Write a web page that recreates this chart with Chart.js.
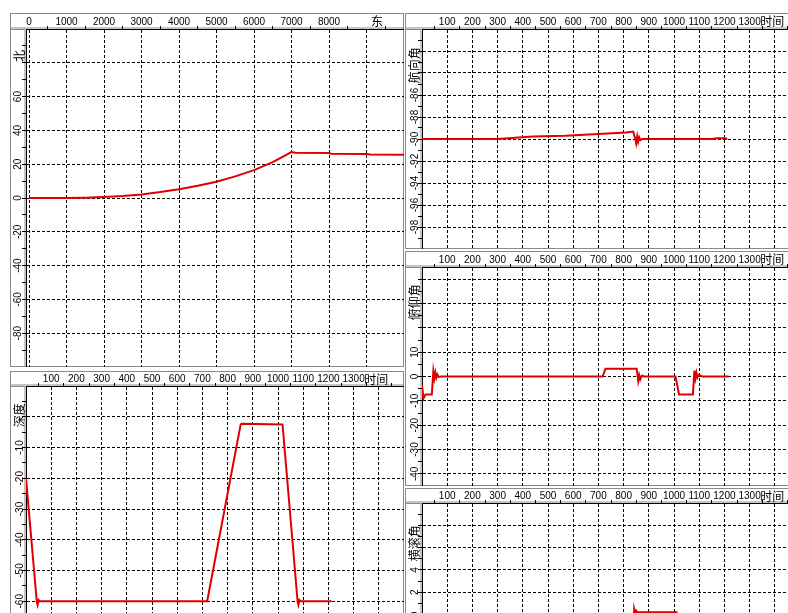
<!DOCTYPE html>
<html>
<head>
<meta charset="utf-8">
<script src="https://cdn.jsdelivr.net/npm/chart.js@4.4.0/dist/chart.umd.min.js"></script>
<style>
  html, body { margin: 0; padding: 0; background: #fff; width: 788px; height: 613px; overflow: hidden; }
  canvas { position: absolute; }
</style>
</head>
<body>
<canvas id="track" width="394" height="354" style="left:10px;top:13px"></canvas>
<canvas id="heading" width="395" height="236" style="left:405px;top:13px"></canvas>
<canvas id="pitch" width="395" height="235" style="left:405px;top:251px"></canvas>
<canvas id="depth" width="394" height="261" style="left:10px;top:371px"></canvas>
<canvas id="roll" width="395" height="238" style="left:405px;top:488px"></canvas>
<script>
// 轨迹：东 / 北
var trackEast  = [0, 1000, 1500, 2000, 2500, 3000, 3500, 4000, 4500, 5000, 5500, 6000, 6500, 7000, 7100, 8000, 8050, 9000, 9100, 10000];
var trackNorth = [0, 0, 0.2, 0.6, 1.2, 2.1, 3.5, 5.2, 7.2, 9.6, 12.8, 16.5, 21.2, 27.2, 26.8, 26.7, 26.2, 26.1, 25.7, 25.6];

// 航向角 vs 时间
var headTime = [0, 300, 440, 570, 700, 810, 838, 846, 850, 854, 858, 862, 867, 874, 1000, 1150, 1170, 1200, 1212];
var headVal  = [-90.0, -90.0, -89.78, -89.7, -89.55, -89.4, -89.33, -89.95, -90.4, -89.75, -90.25, -89.85, -90.1, -90.0, -90.0, -90.0, -89.93, -89.93, -90.0];

// 俯仰角 vs 时间
var pitchTime = [0, 6, 14, 39, 45, 49, 53, 57, 61, 66, 76, 717, 728, 852, 858, 862, 866, 872, 883, 1006, 1020, 1075, 1081, 1085, 1089, 1093, 1098, 1113, 1217];
var pitchVal  = [-3.5, -9, -7.4, -7.4, 2.2, -0.8, 1.6, -0.5, 0.8, -0.2, 0, 0, 3.2, 3.2, -1.8, 0.5, -1.2, 0.3, 0, 0, -7.4, -7.4, 2.4, -0.8, 1.5, -0.4, 0.6, 0, 0];

// 深度 vs 时间
var depthTime = [0, 43, 46, 50, 55, 719, 852, 856, 1018, 1078, 1081, 1085, 1090, 1213];
var depthVal  = [-20, -60.3, -61.2, -59.6, -60, -60, -2.5, -2.3, -2.5, -60.3, -61.2, -59.6, -60, -60];

// 横滚角 vs 时间
var rollTime = [0, 838, 842, 846, 850, 855, 1010, 1014, 1213];
var rollVal  = [-1.5, -1.5, 0.5, 0.1, 0.35, 0.2, 0.2, -1.5, -1.5];

// tick labels
var trackXLabels = [0, 1000, 2000, 3000, 4000, 5000, 6000, 7000, 8000];
var trackYLabels = [-80, -60, -40, -20, 0, 20, 40, 60];
var timeLabels   = [100, 200, 300, 400, 500, 600, 700, 800, 900, 1000, 1100, 1200, 1300];
var headYLabels  = [-98, -96, -94, -92, -90, -88, -86];
var pitchYLabels = [-40, -30, -20, -10, 0, 10];
var depthYLabels = [-60, -50, -40, -30, -20, -10];
var rollYLabels  = [-8, -6, -4, -2, 0, 2, 4];

var RED = 'rgb(222,0,0)';
var TICK_FONT = { family: '"Liberation Sans", Arial, sans-serif', size: 10 };

function tickValues(min, max, step) {
  var out = [];
  for (var k = Math.ceil(min / step); k * step < max; k++) {
    if (k * step > min) out.push(k * step);
  }
  return out;
}

var panelDecor = {
  id: 'panelDecor',
  beforeDraw: function (chart) {
    var ctx = chart.ctx, a = chart.chartArea, w = chart.width, h = chart.height;
    ctx.save();
    ctx.strokeStyle = '#8a8a8a';
    ctx.lineWidth = 1;
    ctx.strokeRect(0.5, 0.5, w - 1, h - 1);
    ctx.strokeRect(0.5, 0.5, w - 1, a.top - 1.5);
    ctx.strokeRect(0.5, a.top + 0.5, a.left - 1.5, h - a.top - 1);
    ctx.restore();
  },
  afterDraw: function (chart, args, o) {
    var ctx = chart.ctx, a = chart.chartArea;
    ctx.save();
    ctx.fillStyle = '#000';
    ctx.font = '12px "Noto Sans CJK SC"';
    ctx.textAlign = 'center';
    ctx.textBaseline = 'middle';
    if (o.xTitle) {
      ctx.fillText(o.xTitle, chart.scales.x.getPixelForValue(o.xTitleAt), a.top / 2 + 0.5);
    }
    if (o.yTitle) {
      ctx.translate(a.left / 2 + 1, chart.scales.y.getPixelForValue(o.yTitleAt));
      ctx.rotate(-Math.PI / 2);
      ctx.fillText(o.yTitle, 0, 0);
    }
    ctx.restore();
  }
};

function makePanel(id, p) {
  var points = p.xs.map(function (x, i) { return { x: x, y: p.ys[i] }; });
  var xTicks = tickValues(p.xMin, p.xMax, p.xMinor);
  var yTicks = tickValues(p.yMin, p.yMax, p.yMinor);
  function isMajor(v, step) { return Math.abs(v / step - Math.round(v / step)) < 1e-6; }

  return new Chart(document.getElementById(id), {
    type: 'line',
    data: {
      datasets: [{
        data: points,
        borderColor: RED,
        borderWidth: 2,
        pointRadius: 0,
        tension: 0
      }]
    },
    options: {
      responsive: false,
      animation: false,
      layout: { padding: 0 },
      plugins: {
        legend: { display: false },
        tooltip: { enabled: false },
        panelDecor: { xTitle: p.xTitle, xTitleAt: p.xTitleAt, yTitle: p.yTitle, yTitleAt: p.yTitleAt }
      },
      scales: {
        x: {
          type: 'linear',
          position: 'top',
          min: p.xMin,
          max: p.xMax,
          afterBuildTicks: function (s) { s.ticks = xTicks.map(function (v) { return { value: v }; }); },
          afterFit: function (s) { s.height = p.xAxisH; s.paddingLeft = 0; s.paddingRight = 0; },
          grid: {
            color: function (c) { return isMajor(c.tick.value, p.xMajor) ? '#000' : 'rgba(0,0,0,0)'; },
            tickColor: function (c) { return isMajor(c.tick.value, p.xMajor) ? 'rgba(0,0,0,0)' : '#000'; },
            tickLength: 3,
            lineWidth: 1
          },
          border: { color: '#000', width: 1, dash: [3, 2] },
          ticks: {
            autoSkip: false,
            maxRotation: 0,
            minRotation: 0,
            padding: -2.5,
            color: '#000',
            font: TICK_FONT,
            callback: function (v) { return p.xLabels.indexOf(v) >= 0 ? String(v) : ''; }
          }
        },
        y: {
          type: 'linear',
          position: 'left',
          min: p.yMin,
          max: p.yMax,
          afterBuildTicks: function (s) { s.ticks = yTicks.map(function (v) { return { value: v }; }); },
          afterFit: function (s) { s.width = p.yAxisW; s.paddingTop = 0; s.paddingBottom = 0; },
          grid: {
            color: function (c) { return isMajor(c.tick.value, p.yMajor) ? '#000' : 'rgba(0,0,0,0)'; },
            tickColor: '#000',
            tickLength: 4,
            lineWidth: 1
          },
          border: { color: '#000', width: 1, dash: [3, 2] },
          ticks: {
            autoSkip: false,
            minRotation: 90,
            maxRotation: 90,
            crossAlign: 'center',
            padding: p.yPad,
            color: '#000',
            font: TICK_FONT,
            callback: function (v) { return p.yLabels.indexOf(v) >= 0 ? String(v) : ''; }
          }
        }
      }
    },
    plugins: [panelDecor]
  });
}

makePanel('track', {
  xs: trackEast, ys: trackNorth,
  xMin: -80, xMax: 10000, xMinor: 500, xMajor: 1000, xLabels: trackXLabels,
  yMin: -100, yMax: 100, yMinor: 10, yMajor: 20, yLabels: trackYLabels,
  xAxisH: 16, yAxisW: 16, yPad: -3.5,
  xTitle: '东', xTitleAt: 9280, yTitle: '北', yTitleAt: 84
});

makePanel('heading', {
  xs: headTime, ys: headVal,
  xMin: 0, xMax: 1500, xMinor: 50, xMajor: 100, xLabels: timeLabels,
  yMin: -100, yMax: -80, yMinor: 1, yMajor: 2, yLabels: headYLabels,
  xAxisH: 16, yAxisW: 17, yPad: -4.7,
  xTitle: '时间', xTitleAt: 1390, yTitle: '航向角', yTitleAt: -83.3
});

makePanel('pitch', {
  xs: pitchTime, ys: pitchVal,
  xMin: 0, xMax: 1500, xMinor: 50, xMajor: 100, xLabels: timeLabels,
  yMin: -45, yMax: 45, yMinor: 5, yMajor: 10, yLabels: pitchYLabels,
  xAxisH: 16, yAxisW: 17, yPad: -4.5,
  xTitle: '时间', xTitleAt: 1390, yTitle: '俯仰角', yTitleAt: 30.5
});

makePanel('depth', {
  xs: depthTime, ys: depthVal,
  xMin: 0, xMax: 1500, xMinor: 50, xMajor: 100, xLabels: timeLabels,
  yMin: -70, yMax: 10, yMinor: 5, yMajor: 10, yLabels: depthYLabels,
  xAxisH: 15, yAxisW: 16, yPad: -5,
  xTitle: '时间', xTitleAt: 1390, yTitle: '深度', yTitleAt: 0.5
});

makePanel('roll', {
  xs: rollTime, ys: rollVal,
  xMin: 0, xMax: 1500, xMinor: 50, xMajor: 100, xLabels: timeLabels,
  yMin: -10, yMax: 10, yMinor: 1, yMajor: 2, yLabels: rollYLabels,
  xAxisH: 15, yAxisW: 17, yPad: -2,
  xTitle: '时间', xTitleAt: 1390, yTitle: '横滚角', yTitleAt: 6.4
});
</script>
</body>
</html>
